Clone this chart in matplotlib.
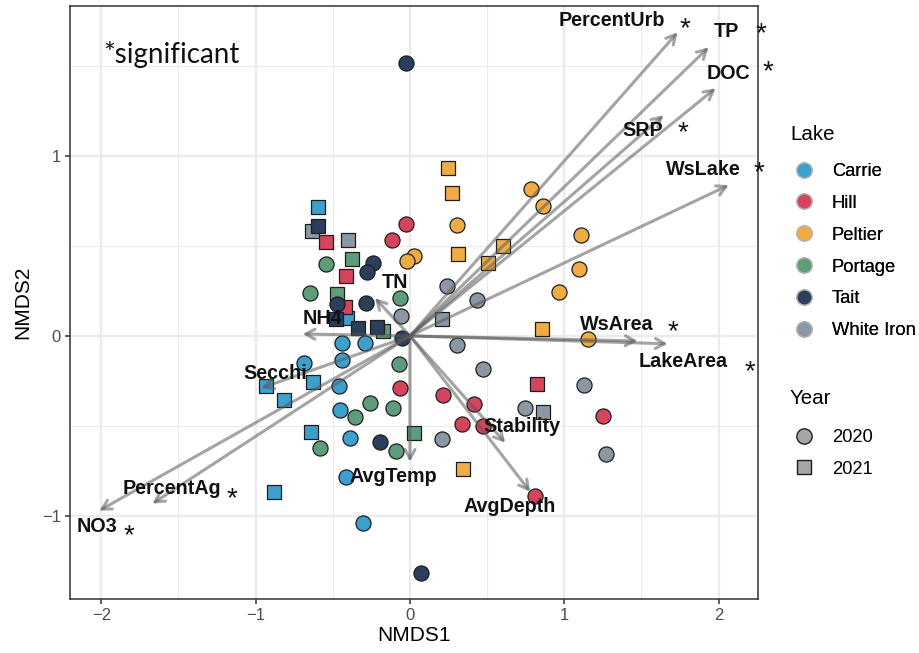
import matplotlib
matplotlib.use("Agg")
import matplotlib.pyplot as plt
from matplotlib.lines import Line2D

# ---- site scores (NMDS axes) ----
sample_lake = (
    ["White Iron"] * 13 + ["Carrie"] * 16 + ["Hill"] * 13 +
    ["Peltier"] * 16 + ["Portage"] * 13 + ["Tait"] * 12
)
sample_year = (
    [2020] * 9 + [2021] * 4 +
    [2020] * 9 + [2021] * 7 +
    [2020] * 9 + [2021] * 4 +
    [2020] * 9 + [2021] * 7 +
    [2020] * 9 + [2021] * 4 +
    [2020] * 8 + [2021] * 4
)
nmds1 = [
    # White Iron
    0.240, 0.434, -0.058, 0.305, 0.473, 1.128, 0.745, 0.207, 1.270,
    -0.635, -0.402, 0.207, 0.862,
    # Carrie
    -0.441, -0.292, -0.687, -0.441, -0.460, -0.454, -0.389, -0.415, -0.305,
    -0.596, -0.629, -0.933, -0.817, -0.642, -0.881, -0.408,
    # Hill
    -0.026, -0.117, -0.065, 0.214, 0.415, 0.337, 0.473, 1.251, 0.810,
    -0.544, -0.415, -0.421, 0.823,
    # Peltier
    0.305, 0.026, -0.019, 0.784, 0.862, 1.108, 1.095, 0.966, 1.154,
    0.246, 0.272, 0.311, 0.603, 0.506, 0.855, 0.343,
    # Portage
    -0.544, -0.648, -0.065, -0.071, -0.259, -0.110, -0.356, -0.583, -0.091,
    -0.376, -0.473, -0.175, 0.026,
    # Tait
    -0.026, -0.240, -0.279, -0.473, -0.285, -0.052, -0.194, 0.071,
    -0.596, -0.480, -0.337, -0.214,
]
nmds2 = [
    # White Iron
    0.278, 0.200, 0.111, -0.050, -0.184, -0.273, -0.401, -0.573, -0.657,
    0.584, 0.534, 0.095, -0.423,
    # Carrie
    -0.039, -0.039, -0.150, -0.134, -0.278, -0.412, -0.568, -0.785, -1.041,
    0.718, -0.256, -0.278, -0.356, -0.534, -0.868, 0.100,
    # Hill
    0.623, 0.534, -0.289, -0.328, -0.378, -0.490, -0.501, -0.445, -0.890,
    0.523, 0.334, 0.161, -0.267,
    # Peltier
    0.618, 0.445, 0.417, 0.818, 0.723, 0.562, 0.373, 0.245, -0.017,
    0.935, 0.796, 0.456, 0.501, 0.406, 0.039, -0.740,
    # Portage
    0.401, 0.239, 0.211, -0.156, -0.373, -0.401, -0.451, -0.623, -0.640,
    0.428, 0.234, 0.028, -0.540,
    # Tait
    1.519, 0.406, 0.356, 0.178, 0.184, -0.011, -0.590, -1.319,
    0.612, 0.095, 0.045, 0.050,
]

lake_names = ["Carrie", "Hill", "Peltier", "Portage", "Tait", "White Iron"]
lake_colors = ["#3d9fcb", "#d4445c", "#efac44", "#5e9c7c", "#2b3e5c", "#8c97a6"]
years = [2020, 2021]
year_markers = ["o", "s"]

# ---- fitted environmental vectors ----
env_names = ["PercentUrb", "TP", "DOC", "SRP", "WsLake", "WsArea", "LakeArea",
             "Stability", "AvgDepth", "AvgTemp", "NO3", "PercentAg",
             "Secchi", "NH4", "TN"]
env_nmds1 = [1.734, 1.935, 1.980, 1.643, 2.065, 1.474, 1.669,
             0.617, 0.779, 0.000, -2.013, -1.669, -0.961, -0.695, -0.227]
env_nmds2 = [1.689, 1.606, 1.378, 1.228, 0.839, -0.028, -0.044,
             -0.594, -0.867, -0.700, -0.972, -0.933, -0.289, 0.011, 0.211]
env_significant = [True, True, True, True, True, True, True,
                   False, False, False, True, True, False, False, False]
# text placement for each vector label (NMDS units)
label_x = [1.309, 2.048, 2.061, 1.510, 1.899, 1.342, 1.769,
           0.726, 0.648, -0.110, -2.029, -1.542, -0.875, -0.570, -0.097]
label_y = [1.753, 1.692, 1.458, 1.141, 0.924, 0.061, -0.145,
           -0.506, -0.952, -0.785, -1.063, -0.851, -0.211, 0.095, 0.295]
star_x = [1.782, 2.275, 2.320, 1.769, 2.262, 1.704, 2.203,
          None, None, None, -1.821, -1.154, None, None, None]
star_y = [1.747, 1.720, 1.508, 1.169, 0.946, 0.061, -0.161,
          None, None, None, -1.074, -0.868, None, None, None]

W, H = 920, 653
FONT = "Liberation Sans"
fig = plt.figure(figsize=(W / 100, H / 100), dpi=100)
ax = fig.add_axes([70 / W, 1 - 599 / H, 688 / W, 593 / H])

ax.set_xlim(-2.203, 2.255)
ax.set_ylim(-1.464, 1.836)
ax.set_xticks([-2, -1, 0, 1, 2])
ax.set_xticklabels(["\u22122", "\u22121", "0", "1", "2"])
ax.set_yticks([-1, 0, 1])
ax.set_yticklabels(["\u22121", "0", "1"])
ax.set_xticks([-1.5, -0.5, 0.5, 1.5], minor=True)
ax.set_yticks([-0.5, 0.5, 1.5], minor=True)
ax.grid(True, which="major", color="#ebebeb", lw=1.7, zorder=0)
ax.grid(True, which="minor", color="#ebebeb", lw=0.8, zorder=0)
ax.set_axisbelow(True)
for s in ax.spines.values():
    s.set_color("#333333")
    s.set_linewidth(1.1)
ax.tick_params(which="major", length=3.5, width=1.1, color="#333333",
               labelsize=12, labelcolor="#4d4d4d", pad=3)
ax.tick_params(which="minor", length=0)
for lab in ax.get_xticklabels() + ax.get_yticklabels():
    lab.set_fontfamily(FONT)

ax.set_xlabel("NMDS1", fontsize=15, family=FONT, labelpad=2)
ax.set_ylabel("NMDS2", fontsize=15, family=FONT, labelpad=7)

# site points, one lake at a time
draw_order = ["White Iron", "Carrie", "Hill", "Peltier", "Portage", "Tait"]
for lake in draw_order:
    col = lake_colors[lake_names.index(lake)]
    for yr, mk in zip(years, year_markers):
        xs = [x for x, l, y in zip(nmds1, sample_lake, sample_year) if l == lake and y == yr]
        ys = [v for v, l, y in zip(nmds2, sample_lake, sample_year) if l == lake and y == yr]
        ax.scatter(xs, ys, s=118 if mk == "o" else 104, marker=mk, c=col,
                   edgecolors="#1e1e1e", linewidths=0.9, zorder=3)

# environmental vectors
for ex, ey in zip(env_nmds1, env_nmds2):
    ax.annotate("", xy=(ex, ey), xytext=(0, 0),
                arrowprops=dict(arrowstyle="->,head_length=6.5,head_width=3.6",
                                mutation_scale=1, color="#5a5a5a", alpha=0.55,
                                lw=2.2, shrinkA=0, shrinkB=0),
                zorder=4)

for name, lx, ly in zip(env_names, label_x, label_y):
    ax.text(lx, ly, name, ha="center", va="center", fontsize=14.2,
            fontweight="bold", family=FONT, color="#111111", zorder=5)

for sig, sx, sy in zip(env_significant, star_x, star_y):
    if sig:
        ax.annotate("*", xy=(sx, sy), xytext=(0, -5.5), textcoords="offset points",
                    ha="center", va="center", fontsize=20, family=FONT,
                    color="#111111", annotation_clip=False, zorder=5)

ax.text(0.049, 0.919, "*significant", transform=ax.transAxes, ha="left",
        va="center", fontsize=20, family="Lato", color="#111111")

# legends (titles placed as separate figure text)
leg_kw = dict(loc="upper left", frameon=False, prop={"family": FONT, "size": 13.2},
              handlelength=1.0, handletextpad=1.0, labelspacing=0.81,
              borderpad=0, borderaxespad=0)

fig.text(790 / W, 1 - 135 / H, "Lake", ha="left", va="center",
         fontsize=14.8, family=FONT)
lake_handles = [Line2D([], [], ls="", marker="o", markersize=11,
                       markerfacecolor=c, markeredgecolor="#b5b5b5",
                       markeredgewidth=1.0) for c in lake_colors]
leg1 = fig.legend(lake_handles, lake_names, bbox_to_anchor=(795 / W, 1 - 163 / H),
                  **leg_kw)
fig.add_artist(leg1)

fig.text(790 / W, 1 - 399 / H, "Year", ha="left", va="center",
         fontsize=14.8, family=FONT)
year_handles = [Line2D([], [], ls="", marker=m, markersize=11 if m == "o" else 10,
                       markerfacecolor="#a6a6a6", markeredgecolor="#1e1e1e",
                       markeredgewidth=1.0) for m in year_markers]
fig.legend(year_handles, [str(y) for y in years],
           bbox_to_anchor=(795 / W, 1 - 429 / H), **leg_kw)

fig.savefig("out.png", dpi=100)
